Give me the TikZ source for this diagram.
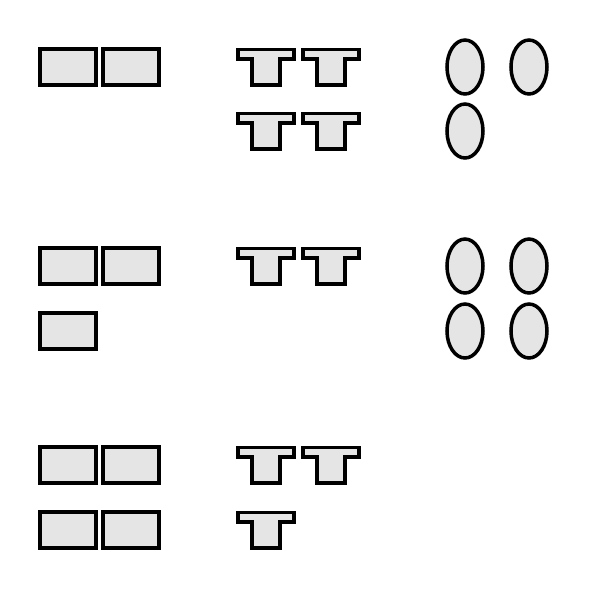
\documentclass[tikz,border=0pt]{standalone}
\usetikzlibrary{shapes.geometric}

\begin{document}
\begin{tikzpicture}[x=0.02cm,y=-0.02cm,
    box/.style={draw,line width=2pt,fill=gray!20,minimum width=1.12cm,minimum height=0.72cm,inner sep=0pt},
    oval/.style={draw,line width=2pt,fill=gray!20,ellipse,minimum width=0.72cm,minimum height=1.08cm,inner sep=0pt},
    pics/tee/.style={code={\draw[line width=2pt,fill=gray!20] (-28,-17.5)--(28,-17.5)--(28,-8)--(14,-8)--(14,18)--(-14,18)--(-14,-8)--(-28,-8)--cycle;}}]
            \useasboundingbox (0,0) rectangle (600,600);
            % first group
            \node[box] (boxA1) at (68,67){};
            \node[box] (boxA2) at (131,67){};
            \pic (teeA1) at (266,67){tee};
            \pic (teeA2) at (331,67){tee};
            \pic (teeA3) at (266,131){tee};
            \pic (teeA4) at (331,131){tee};
            \node[oval] (ovalA1) at (465,67){};
            \node[oval] (ovalA2) at (529,67){};
            \node[oval] (ovalA3) at (465,131){};
            % second group
            \node[box] (boxB1) at (68,266){};
            \node[box] (boxB2) at (131,266){};
            \node[box] (boxB3) at (68,331){};
            \pic (teeB1) at (266,266){tee};
            \pic (teeB2) at (331,266){tee};
            \node[oval] (ovalB1) at (465,266){};
            \node[oval] (ovalB2) at (529,266){};
            \node[oval] (ovalB3) at (465,331){};
            \node[oval] (ovalB4) at (529,331){};
            % third group
            \node[box] (boxC1) at (68,465){};
            \node[box] (boxC2) at (131,465){};
            \node[box] (boxC3) at (68,530){};
            \node[box] (boxC4) at (131,530){};
            \pic (teeC1) at (266,465){tee};
            \pic (teeC2) at (331,465){tee};
            \pic (teeC3) at (266,530){tee};
        \end{tikzpicture}
\end{document}
